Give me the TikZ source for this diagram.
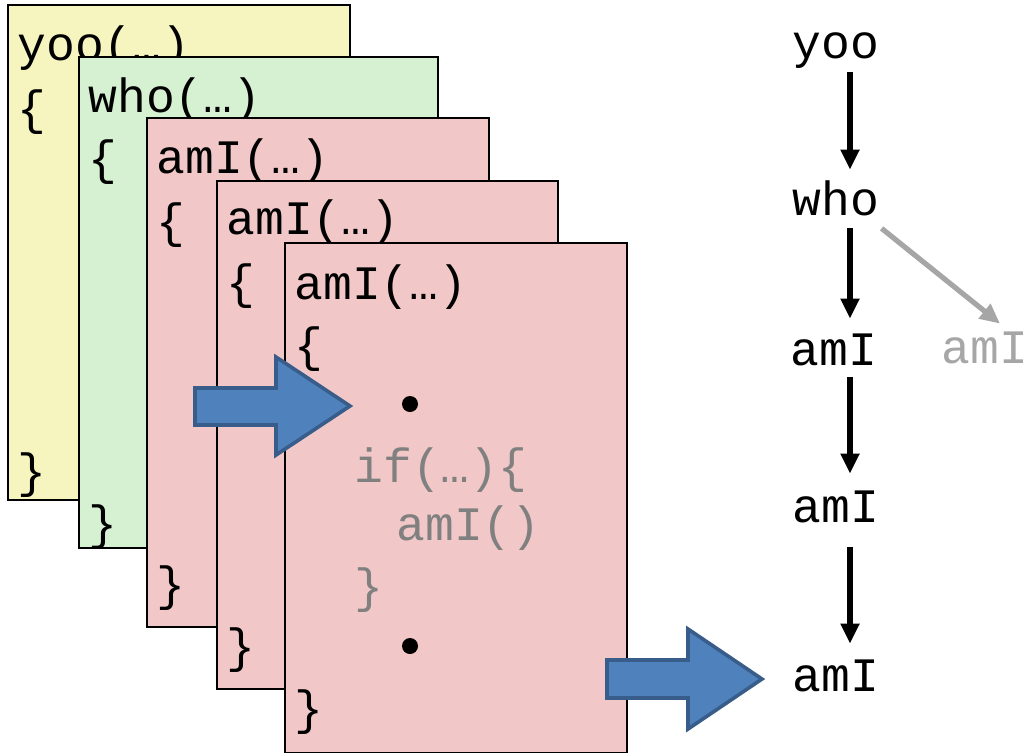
\documentclass[tikz,border=0pt]{standalone}
\usepackage{fontspec}
\setmonofont{Liberation Mono}
\usetikzlibrary{arrows.meta}

\definecolor{yooyellow}{HTML}{F6F5C0}
\definecolor{whogreen}{HTML}{D6F0D2}
\definecolor{amipink}{HTML}{F1C7C7}
\definecolor{blockblue}{HTML}{4F81BD}
\definecolor{blockedge}{HTML}{385D8A}

\tikzset{
	frame/.style={draw=black, line width=1.2pt},
	code/.style={font=\fontsize{24}{28}\selectfont\ttfamily, inner sep=0pt, anchor=west},
	call/.style={font=\fontsize{24}{28}\selectfont\ttfamily, inner sep=0pt, text height=16pt, text depth=5pt},
	callarrow/.style={-{Triangle[length=10pt,width=9pt]}, line width=2.6pt},
	bigarrow/.style={fill=blockblue, draw=blockedge, line width=1.8pt, line join=miter}
}

\begin{document}
\begin{tikzpicture}[x=0.5pt, y=-0.5pt]
	\useasboundingbox (0,0) rectangle (1028,752);
	
	% stack of frames
	\draw[frame, fill=yooyellow] (8,5) rectangle (350,500);
	\node[code] (yootitle) at (17,48) {yoo(…)};
	\node[code] (yooopen) at (17,112) {\{};
	\node[code] (yooclose) at (17,475) {\}};
	
	\draw[frame, fill=whogreen] (79,57) rectangle (438,548);
	\node[code] (whotitle) at (88,100) {who(…)};
	\node[code] (whoopen) at (88,162) {\{};
	\node[code] (whoclose) at (88,527) {\}};
	
	\draw[frame, fill=amipink] (147,118) rectangle (489,627);
	\node[code] (amititle1) at (156,161) {amI(…)};
	\node[code] (amiopen1) at (156,225) {\{};
	\node[code] (amiclose1) at (156,588) {\}};
	
	\draw[frame, fill=amipink] (217,181) rectangle (558,689);
	\node[code] (amititle2) at (226,222) {amI(…)};
	\node[code] (amiopen2) at (226,286) {\{};
	\node[code] (amiclose2) at (226,650) {\}};
	
	\draw[frame, fill=amipink] (285,243) rectangle (627,753);
	\node[code] (amititle3) at (294,287) {amI(…)};
	\node[code] (amiopen3) at (294,349) {\{};
	\fill (410,404) circle (8);
	\node[code, text=gray] (iftest) at (354,470) {if(…)\{};
	\node[code, text=gray] (amicall) at (396,528) {amI()};
	\node[code, text=gray] (ifclose) at (354,590) {\}};
	\fill (410,646) circle (8);
	\node[code] (amiclose3) at (294,712) {\}};
	
	% block arrows
	\draw[bigarrow] (195,388) -- (276,388) -- (276,357) -- (350,406) -- (276,455) -- (276,425) -- (195,425) -- cycle;
	\draw[bigarrow] (607,660) -- (688,660) -- (688,629) -- (762,679) -- (688,729) -- (688,698) -- (607,698) -- cycle;
	
	% call tree
	\node[call] (yoo) at (836,47) {yoo};
	\node[call] (who) at (836,204) {who};
	\node[call] (ami1) at (834,354) {amI};
	\node[call, text=black!35] (amiskip) at (985,352) {amI};
	\node[call] (ami2) at (836,511) {amI};
	\node[call] (ami3) at (836,680) {amI};
	
	\draw[callarrow] ([xshift=7pt,yshift=-2pt]yoo.south) -- ([xshift=7pt,yshift=6.5pt]who.north);
	\draw[callarrow] ([xshift=7pt,yshift=-1.5pt]who.south) -- ([xshift=8pt,yshift=7pt]ami1.north);
	\draw[callarrow, draw=black!35] ([xshift=1pt,yshift=-1.5pt]who.south east) -- ([xshift=7.5pt,yshift=3.5pt]amiskip.north);
	\draw[callarrow] ([xshift=8pt,yshift=-1pt]ami1.south) -- ([xshift=7pt,yshift=8pt]ami2.north);
	\draw[callarrow] ([xshift=7pt,yshift=-7.5pt]ami2.south) -- ([xshift=7pt,yshift=7.5pt]ami3.north);
\end{tikzpicture}
\end{document}
